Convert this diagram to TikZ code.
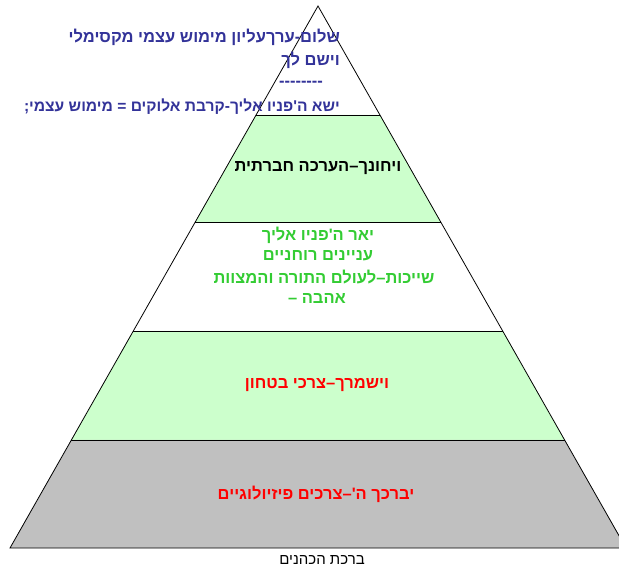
\documentclass[tikz,border=0pt]{standalone}
\usepackage{fontspec}
\setmainfont{Liberation Sans}
\newfontfamily\hebfont[Script=Hebrew]{Liberation Sans}
\TeXXeTstate=1
\usepackage{tikz}
\usetikzlibrary{positioning,calc}
\usepackage{xcolor}
\definecolor{lvlgreen}{HTML}{CCFFCC}
\definecolor{lvlgray}{HTML}{C0C0C0}
\definecolor{txtblue}{HTML}{333399}
\definecolor{txtgreen}{HTML}{33CC33}

\begin{document}
\begin{tikzpicture}[x=1pt,y=-1pt,
  heb/.style={font=\hebfont\bfseries\fontsize{16.5}{18}\selectfont, inner sep=0pt},
  plain/.style={font=\hebfont\fontsize{15}{17}\selectfont, inner sep=0pt}]
\useasboundingbox (0,0) rectangle (619,571);
\clip (0,0) rectangle (619,571);
\coordinate (apex) at (318,6);
\coordinate (bl) at (10,548);
\coordinate (br) at (626,548);
% levels of the pyramid
\fill[lvlgreen] ($(apex)!.2011!(bl)$) -- ($(apex)!.2011!(br)$) -- ($(apex)!.3985!(br)$) -- ($(apex)!.3985!(bl)$) -- cycle;
\fill[lvlgreen] ($(apex)!.5996!(bl)$) -- ($(apex)!.5996!(br)$) -- ($(apex)!.8007!(br)$) -- ($(apex)!.8007!(bl)$) -- cycle;
\fill[lvlgray]  ($(apex)!.8007!(bl)$) -- ($(apex)!.8007!(br)$) -- (br) -- (bl) -- cycle;
\foreach \t in {.2011,.3985,.5996,.8007}
  \draw[line width=.8pt] ($(apex)!\t!(bl)$) -- ($(apex)!\t!(br)$);
\draw[line width=.8pt] (bl) -- (apex) -- (br) -- cycle;
% top
\node[heb,txtblue,anchor=east] (top1) at (340,37) {\beginR שלום-ערךעליון מימוש עצמי מקסימלי\endR};
\node[heb,txtblue,anchor=east] (top2) at (340,60) {\beginR וישם לך\endR};
\node[heb,txtblue] (top3) at (301,84) {--------};
\node[heb,txtblue,anchor=east,font=\hebfont\bfseries\fontsize{15.6}{18}\selectfont] (top4) at (340,107) {\beginR ישא ה'פניו אליך-קרבת אלוקים = מימוש עצמי;\endR};
% levels
\node[heb] (social) at (318,168) {\beginR ויחונך–הערכה חברתית\endR};
\node[heb,txtgreen] (love1) at (318,235) {\beginR יאר ה'פניו אליך\endR};
\node[heb,txtgreen] (love2) at (318,256) {\beginR עניינים רוחניים\endR};
\node[heb,txtgreen] (love3) at (324,277) {\beginR שייכות–לעולם התורה והמצוות\endR};
\node[heb,txtgreen] (love4) at (317,298) {\beginR אהבה –\endR};
\node[heb,red] (safety) at (317,385) {\beginR וישמרך–צרכי בטחון\endR};
\node[heb,red] (body) at (316,494) {\beginR יברכך ה'–צרכים פיזיולוגיים\endR};
\node[plain] (title) at (322,560) {\beginR ברכת הכהנים\endR};
\end{tikzpicture}
\end{document}
